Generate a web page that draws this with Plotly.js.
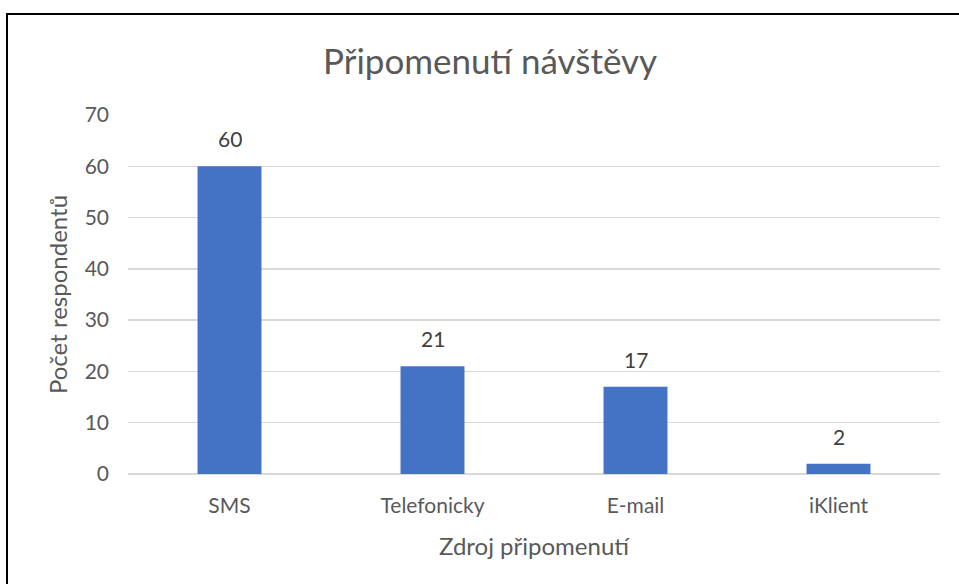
<!DOCTYPE html>
<html>
<head>
<meta charset="utf-8">
<script src="https://cdn.plot.ly/plotly-3.0.1.min.js"></script>
<style>
html,body{margin:0;padding:0;background:#fff;}
#wrap{position:relative;width:959px;height:584px;}
#chart{width:959px;height:584px;}
#frame{position:absolute;left:6px;top:13px;right:-10px;bottom:-10px;border-left:2px solid #000;border-top:2px solid #000;pointer-events:none;}
</style>
</head>
<body>
<div id="wrap"><div id="chart"></div><div id="frame"></div></div>
<script>
const categories = ["SMS", "Telefonicky", "E-mail", "iKlient"];
const values = [60, 21, 17, 2];
const yTicks = [0, 10, 20, 30, 40, 50, 60, 70];

const FONT = "Lato, 'Open Sans', sans-serif";
const trace = {
  type: "bar",
  x: categories,
  y: values,
  marker: {color: "#4472C4"},
  hoverinfo: "x+y"
};
const labels = categories.map((c, i) => ({
  x: c, y: values[i], xref: "x", yref: "y",
  text: String(values[i]), showarrow: false,
  yanchor: "bottom", yshift: 13,
  font: {family: FONT, size: 21, color: "#404040"}
}));
const layout = {
  width: 959, height: 584,
  margin: {l: 128, r: 19, t: 115, b: 110},
  paper_bgcolor: "#fff", plot_bgcolor: "#fff",
  bargap: 0.685,
  showlegend: false,
  font: {family: FONT, color: "#595959"},
  annotations: labels,
  title: {text: "Připomenutí návštěvy", x: 0.511, xref: "container", xanchor: "center",
          y: 0.895, yref: "container", yanchor: "middle",
          font: {family: FONT, size: 35, color: "#595959"}},
  xaxis: {
    showgrid: false, showline: false, zeroline: false, ticks: "",
    tickfont: {family: FONT, size: 21, color: "#595959"},
    ticklabelstandoff: 17,
    title: {text: "Zdroj připomenutí", standoff: 22, font: {family: FONT, size: 24, color: "#595959"}}
  },
  yaxis: {
    range: [0, 70], tickvals: yTicks, ticktext: yTicks.map(String),
    showgrid: true, gridcolor: "#d9d9d9", gridwidth: 1.3,
    zeroline: true, zerolinecolor: "#d9d9d9", zerolinewidth: 1.3,
    showline: false, ticks: "",
    tickfont: {family: FONT, size: 21, color: "#595959"},
    ticklabelstandoff: 18,
    title: {text: "Počet respondentů", standoff: 10, font: {family: FONT, size: 24, color: "#595959"}}
  }
};
Plotly.newPlot("chart", [trace], layout, {displayModeBar: false, staticPlot: true});
</script>
</body>
</html>
